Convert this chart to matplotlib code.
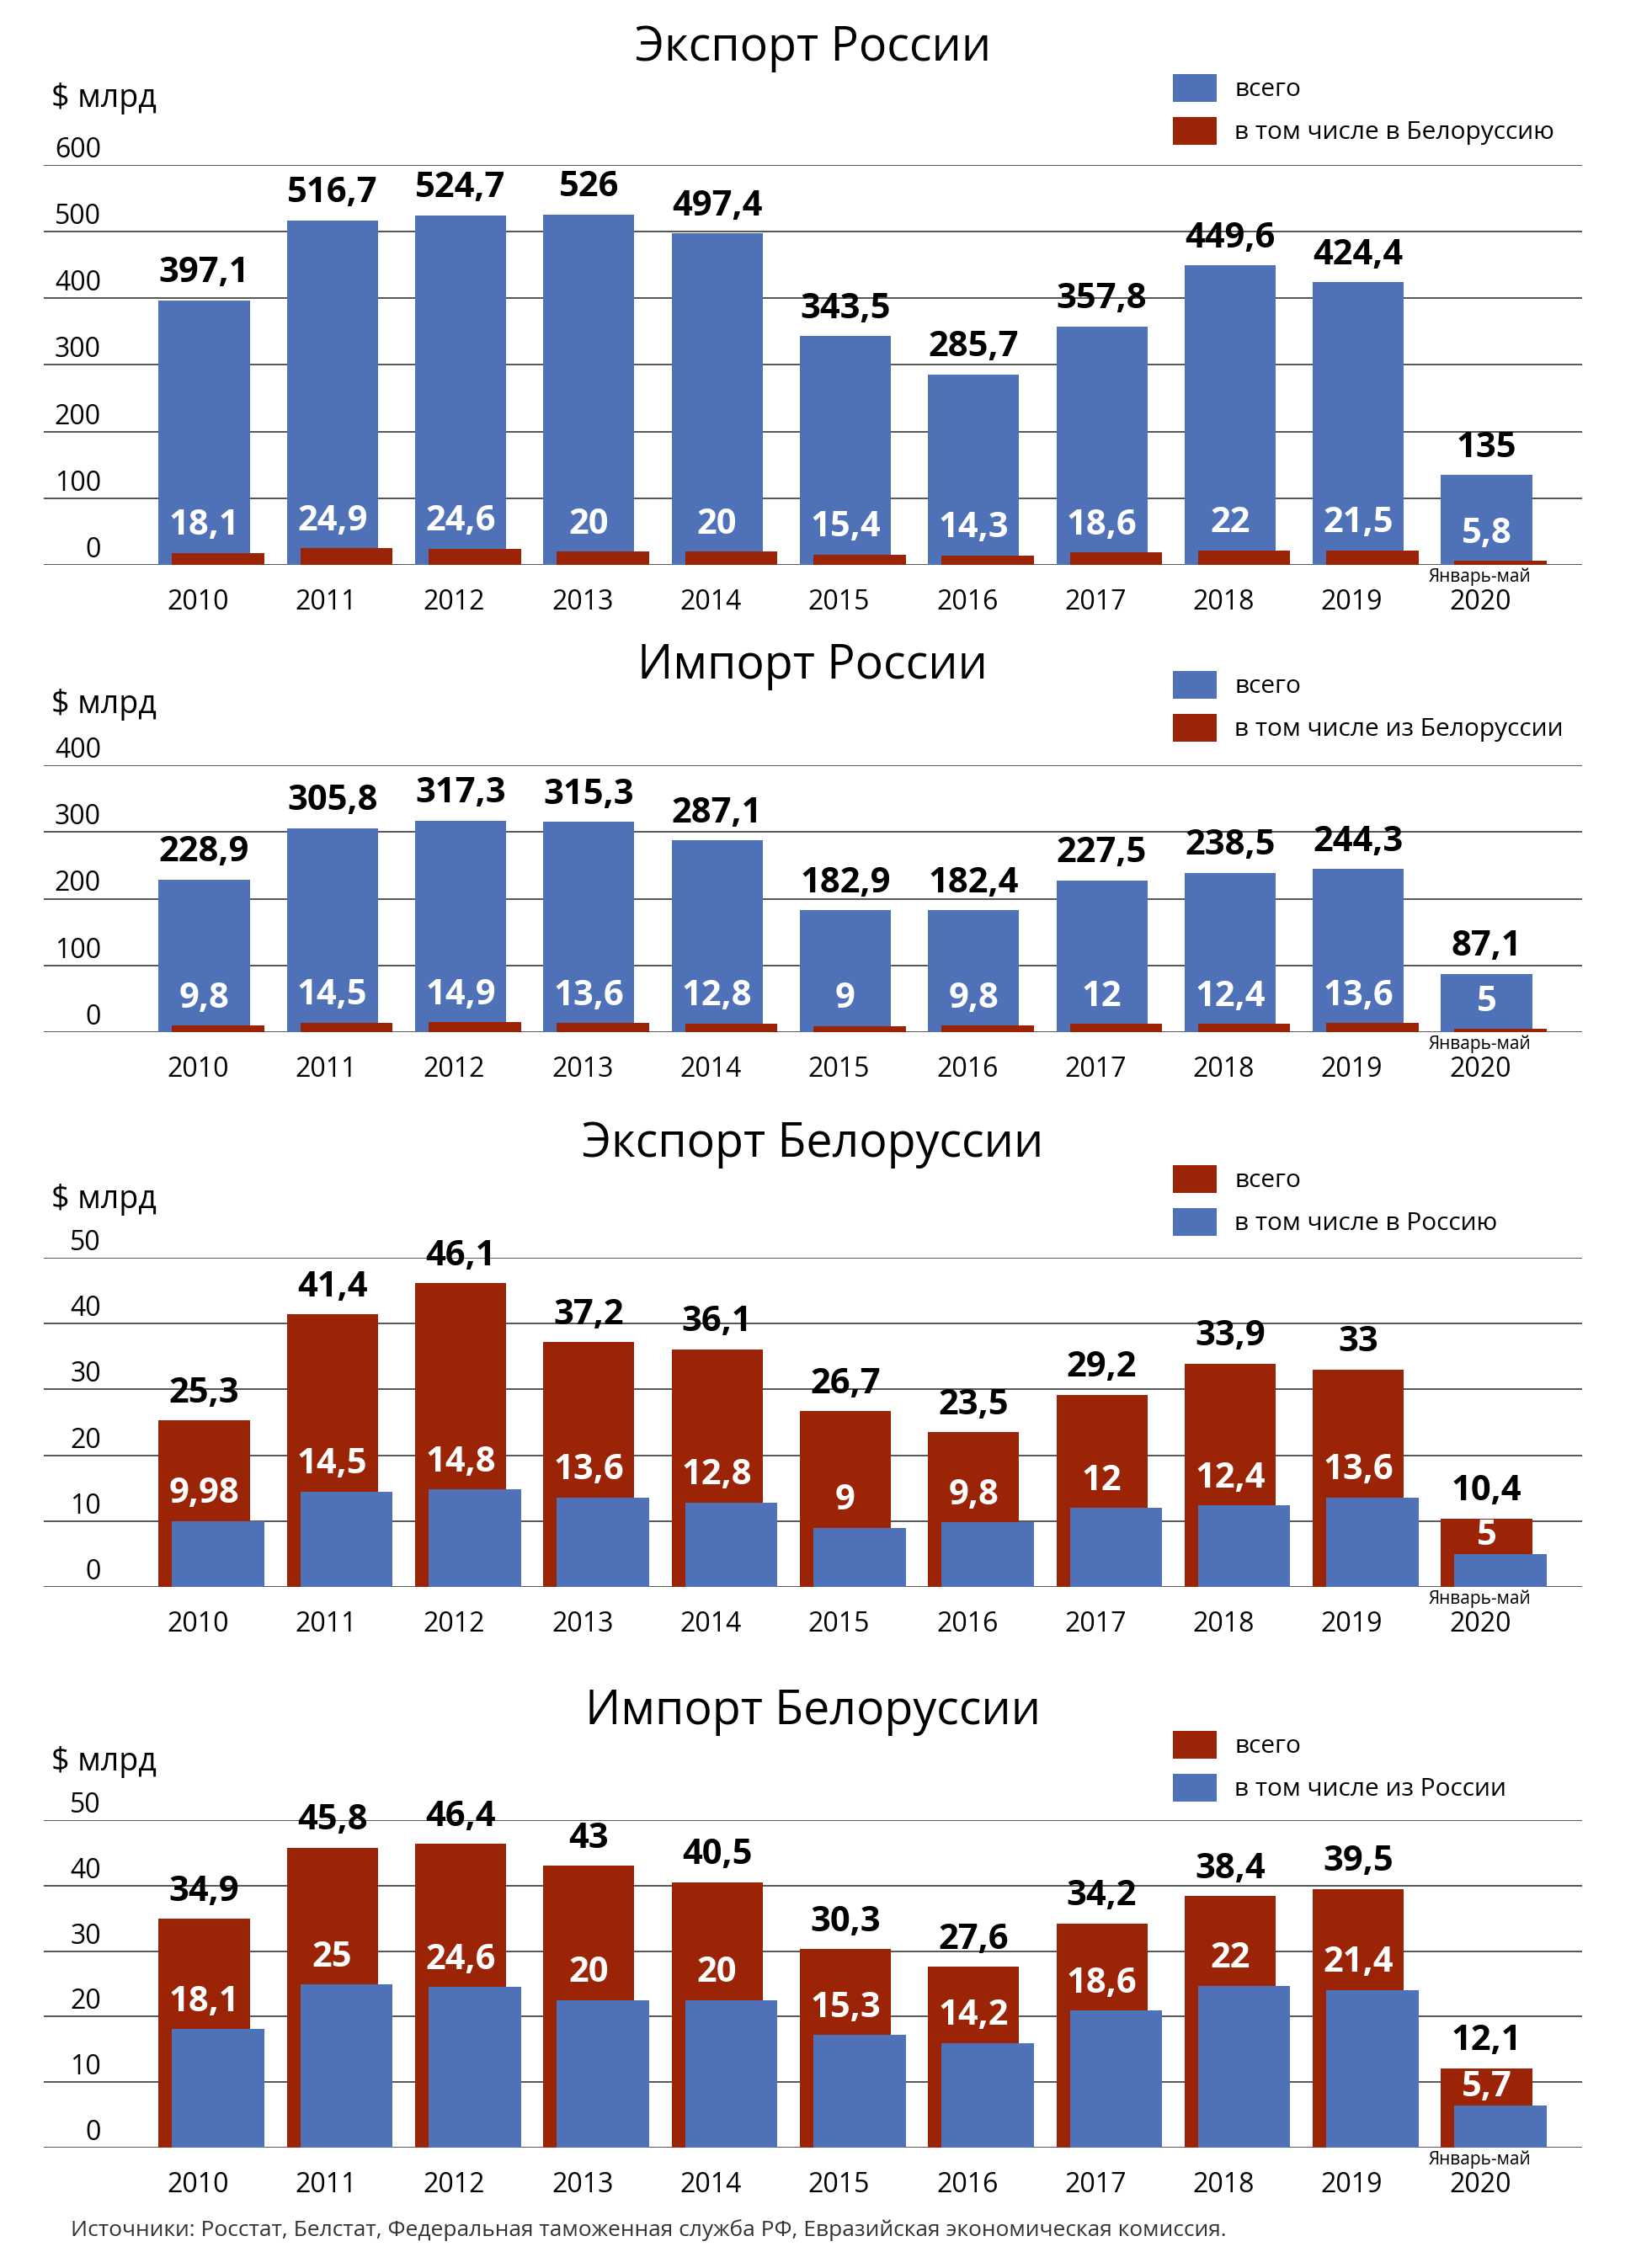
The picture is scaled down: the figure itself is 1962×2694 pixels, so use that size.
import matplotlib
matplotlib.use("Agg")
import matplotlib.pyplot as plt
import numpy as np
from matplotlib.transforms import blended_transform_factory

years = ["2010", "2011", "2012", "2013", "2014", "2015",
         "2016", "2017", "2018", "2019", "2020"]

# экспорт России, $ млрд
ru_export = [397.1, 516.7, 524.7, 526, 497.4, 343.5, 285.7, 357.8, 449.6, 424.4, 135]
ru_export_by = [18.1, 24.9, 24.6, 20, 20, 15.4, 14.3, 18.6, 22, 21.5, 5.8]

# импорт России
ru_import = [228.9, 305.8, 317.3, 315.3, 287.1, 182.9, 182.4, 227.5, 238.5, 244.3, 87.1]
ru_import_by = [9.8, 14.5, 14.9, 13.6, 12.8, 9, 9.8, 12, 12.4, 13.6, 5]

# экспорт Белоруссии
by_export = [25.3, 41.4, 46.1, 37.2, 36.1, 26.7, 23.5, 29.2, 33.9, 33, 10.4]
by_export_ru = [9.98, 14.5, 14.8, 13.6, 12.8, 9, 9.8, 12, 12.4, 13.6, 5]

# импорт Белоруссии
by_import = [34.9, 45.8, 46.4, 43, 40.5, 30.3, 27.6, 34.2, 38.4, 39.5, 12.1]
by_import_ru = [18.1, 25, 24.6, 20, 20, 15.3, 14.2, 18.6, 22, 21.4, 5.7]
# in the original the blue bars from 2013 are drawn taller than their labels
by_import_ru_bar = [18.1, 24.9, 24.5, 22.5, 22.5, 17.2, 16.0, 20.9, 24.7, 24.1, 6.4]

BLUE = "#4f71b8"
RED = "#9c2406"
W, H, DPI = 1962, 2694, 100
LEFT, RIGHT = 51.6, 1879

plt.rcParams["font.family"] = ["Open Sans", "DejaVu Sans"]


def fmt(v):
    return f"{v:g}".replace(".", ",")


def draw_panel(fig, top, bottom, ymax, step, total, part, c_total, c_part,
               title, labels, title_y, unit_y, legend_top, part_bar=None):
    if part_bar is None:
        part_bar = part
    ax = fig.add_axes([LEFT / W, 1 - bottom / H, (RIGHT - LEFT) / W, (bottom - top) / H])
    x = np.arange(len(years))
    ax.set_xlim(-1.253, 10.745)
    ax.set_ylim(0, ymax)
    for s in ax.spines.values():
        s.set_visible(False)
    ax.set_yticks([])
    ax.set_xticks(x - 0.05, years)
    ax.tick_params(axis="x", length=0, pad=20, labelsize=23)

    trans = blended_transform_factory(ax.transAxes, ax.transData)
    tick_off = ymax * 17.5 / (bottom - top)
    for v in range(0, ymax + step, step):
        ax.axhline(v, color="#555555", lw=1.4, zorder=0)
        ax.text(0.0374, v + tick_off, str(v), transform=trans, ha="right",
                va="center", fontsize=23)

    b1 = ax.bar(x, total, width=0.71, color=c_total, zorder=2)
    b2 = ax.bar(x + 0.11, part_bar, width=0.72, color=c_part, zorder=3)

    off = ymax * 32 / (bottom - top)
    for i in range(len(x)):
        ax.text(x[i], total[i] + off, fmt(total[i]), ha="center", va="center",
                fontsize=30, fontweight="bold", color="black", zorder=5)
        yin = min(part_bar[i] + off, (part_bar[i] + total[i]) / 2)
        ax.text(x[i], yin, fmt(part[i]), ha="center", va="center",
                fontsize=30, fontweight="bold", color="white", zorder=5)

    ax.annotate("Январь-май", xy=(x[-1] - 0.05, 0), xytext=(0, -10.5),
                textcoords="offset points", ha="center", va="center", fontsize=15)

    fig.text((LEFT + RIGHT) / 2 / W, 1 - title_y / H, title, ha="center",
             va="center", fontsize=40)
    fig.text(61 / W, 1 - unit_y / H, "$ млрд", ha="left", va="center", fontsize=27)
    fig.legend([b1, b2], labels, loc="upper left",
               bbox_to_anchor=(1393 / W, 1 - legend_top / H), frameon=False,
               fontsize=21.5, handlelength=1.75, handleheight=1.3,
               handletextpad=0.7, labelspacing=0.6, borderpad=0,
               borderaxespad=0)
    return ax


fig = plt.figure(figsize=(W / DPI, H / DPI), dpi=DPI)

draw_panel(fig, 196, 671, 600, 100, ru_export, ru_export_by, BLUE, RED,
           "Экспорт России", ["всего", "в том числе в Белоруссию"], 58, 117, 88)
draw_panel(fig, 909, 1226, 400, 100, ru_import, ru_import_by, BLUE, RED,
           "Импорт России", ["всего", "в том числе из Белоруссии"], 792, 837, 797)
draw_panel(fig, 1494, 1885, 50, 10, by_export, by_export_ru, RED, BLUE,
           "Экспорт Белоруссии", ["всего", "в том числе в Россию"], 1359, 1425, 1384)
draw_panel(fig, 2162, 2551, 50, 10, by_import, by_import_ru, RED, BLUE,
           "Импорт Белоруссии", ["всего", "в том числе из России"], 2034, 2093, 2056,
           part_bar=by_import_ru_bar)

fig.text(84 / W, 1 - 2649 / H,
         "Источники: Росстат, Белстат, Федеральная таможенная служба РФ, "
         "Евразийская экономическая комиссия.",
         ha="left", va="center", fontsize=19, color="#333333")

fig.savefig("out.png", dpi=DPI)
